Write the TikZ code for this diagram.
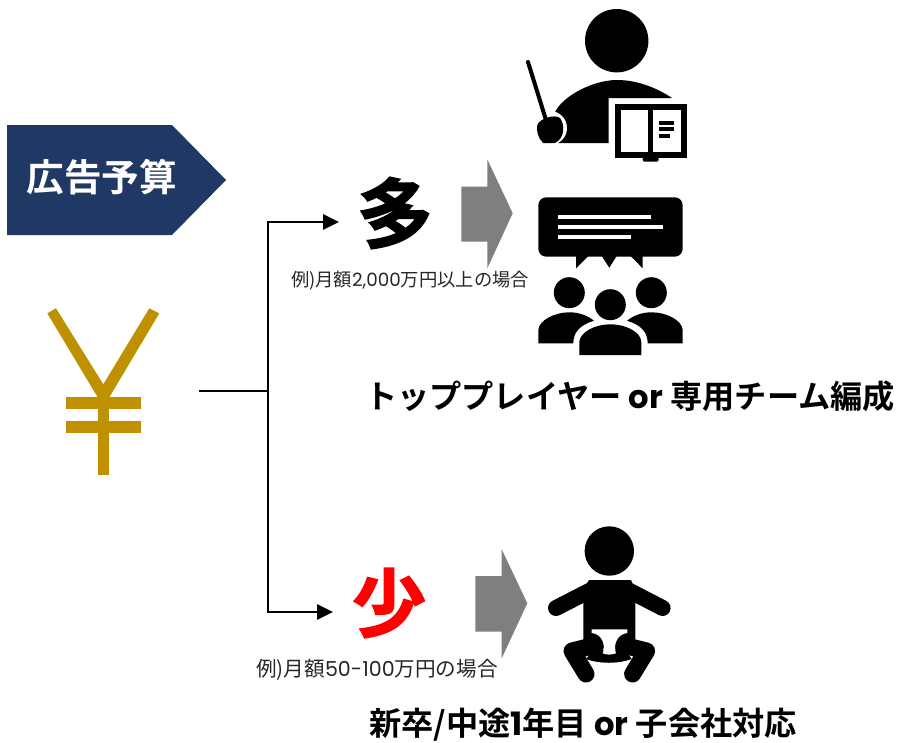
\documentclass[tikz,border=0pt]{standalone}
\usepackage{fontspec}
\setmainfont{Noto Sans CJK JP}[BoldFont={Noto Sans CJK JP Bold}]
\newfontfamily\latinf{Poppins}
\newfontfamily\heavyf{Noto Sans CJK JP Bold}[FakeBold=2]
\newcommand{\lat}[1]{{\latinf #1}}
\definecolor{navy}{HTML}{1F3864}
\definecolor{gold}{HTML}{BF9000}
\definecolor{arrowgray}{HTML}{7F7F7F}
\usetikzlibrary{arrows.meta}
\tikzset{
  link/.style={draw=black,line width=2.7pt},
  linkarrow/.style={link,-{Triangle[length=16pt,width=15pt]}},
  blockarrow/.style={fill=arrowgray,draw=none},
  icon/.style={fill=black,draw=none},
  gap/.style={fill=white,draw=none},
  note/.style={inner sep=0pt,text=black!85},
  headline/.style={inner sep=0pt,font=\bfseries\fontsize{32.2}{38}\selectfont},
}
\begin{document}
\begin{tikzpicture}[x=1pt,y=-1pt]
\useasboundingbox (0,0) rectangle (897,742);
% budget tag
\fill[navy] (7,125) -- (172,125) -- (226,180) -- (172,235) -- (7,235) -- cycle;
\node[inner sep=0pt,text=white,font=\bfseries\fontsize{37.6}{40}\selectfont] (budget) at (102,177) {広告予算};
% yen
\fill[gold] (47.3,313.3) -- (56,308.3) -- (103.3,384.3) -- (149.3,308.3) -- (159.3,313.3) -- (109.3,397.3) -- (97.7,397.3) -- cycle;
\fill[gold] (97.7,397) rectangle (109.3,474.7);
\fill[gold] (66,397.3) rectangle (141,409.3);
\fill[gold] (66,421.3) rectangle (141,433.3);
% connectors
\coordinate (start) at (199,391);
\coordinate (fork) at (268,391);
\coordinate (upTip) at (339,222);
\coordinate (downTip) at (333,612);
\draw[link] (start) -- (fork);
\draw[linkarrow] (fork) |- (upTip);
\draw[linkarrow] (fork) |- (downTip);
% labels
\node[inner sep=0pt,font=\heavyf\fontsize{76}{80}\selectfont] (many) at (395,213) {多};
\node[inner sep=0pt,text=red,font=\heavyf\fontsize{74}{80}\selectfont] (few) at (389,603) {少};
\node[note,font=\fontsize{18.3}{22}\selectfont] (noteA) at (410,281) {例)月額\lat{2,000}万円以上の場合};
\node[note,font=\fontsize{20.6}{24}\selectfont] (noteB) at (377,670) {例)月額\lat{50-100}万円の場合};
% block arrows
\fill[blockarrow] (461.3,186.7) -- (487.3,186.7) -- (487.3,159.3) -- (512.7,213.3) -- (487.3,268.3) -- (487.3,241.7) -- (461.3,241.7) -- cycle;
\fill[blockarrow] (475.3,576) -- (501.7,576) -- (501.7,549.3) -- (527.3,603.3) -- (501.7,658.3) -- (501.7,631.7) -- (475.3,631.7) -- cycle;
% headlines
\node[headline] (top) at (630,396) {トッププレイヤー \lat{or} 専用チーム編成};
\node[headline] (low) at (583,725) {新卒/中途\lat{1}年目 \lat{or} 子会社対応};
% teacher
\fill[icon] (616.7,40.7) circle (31.7);
\fill[icon] (553.5,117) .. controls (556,100) and (590,80) .. (617,80) .. controls (640,80) and (660,90) .. (672,98) -- (608.7,98) -- (608.7,143) -- (558,143) -- cycle;
\fill[gap] (550,128) circle (17);
\draw[black,line width=4pt,line cap=round] (528,62) -- (546,120);
\fill[icon] (537.3,125) .. controls (540,118) and (555,114) .. (560,118) .. controls (565,125) and (565,138) .. (555,143) -- (543,143) .. controls (538,138) and (536,130) .. (537.3,125) -- cycle;
\fill[icon] (614.7,104.3) rectangle (687,158.3);
\fill[gap] (621,110.3) rectangle (648.3,152);
\fill[gap] (653,110.3) rectangle (680.7,152);
\fill[icon] (659,121) rectangle (674,125);
\fill[icon] (659,127.3) rectangle (674,131);
\fill[icon] (659,134) rectangle (670,137.7);
\fill[icon,rounded corners=2pt] (642.7,157) rectangle (658.7,161.7);
% team
\fill[icon,rounded corners=8pt] (538.3,197.3) rectangle (682.7,256.7);
\fill[icon] (576,256) -- (576,268.3) -- (588.3,256) -- cycle;
\fill[icon] (601.7,256) -- (609.3,267.7) -- (616.7,256) -- cycle;
\fill[icon] (630.7,256) -- (642.7,268.3) -- (642.7,256) -- cycle;
\fill[gap] (558.3,215) rectangle (651,219);
\fill[gap] (558.3,225) rectangle (662.7,229);
\fill[gap] (558.3,235) rectangle (631,238.7);
\fill[icon] (569.3,292.7) circle (15.5);
\fill[icon] (651.3,292.7) circle (15.5);
\fill[icon] (610.3,304.7) circle (15.5);
\fill[icon] (538.3,343.3) -- (538.3,330) .. controls (539,320) and (555,312.3) .. (569.3,312.3) .. controls (580,312.3) and (588,316) .. (594,320.7) .. controls (580,325) and (573.3,332) .. (573.3,343.3) -- cycle;
\fill[icon] (682.7,343.3) -- (682.7,330) .. controls (682,320) and (666,312.3) .. (651.7,312.3) .. controls (641,312.3) and (633,316) .. (627,320.7) .. controls (641,325) and (647.7,332) .. (647.7,343.3) -- cycle;
\fill[icon] (579.3,355) -- (579.3,342) .. controls (580,332) and (595,324.3) .. (610.3,324.3) .. controls (626,324.3) and (641,332) .. (641.3,342) -- (641.3,355) -- cycle;
% baby
\fill[icon] (609.3,551) circle (24.7);
\fill[icon] (589,580) -- (631,580) -- (635.3,590) -- (635.3,640) -- (583.3,640) -- (583.3,590) -- cycle;
\draw[black,line width=16pt,line cap=round] (556,608) -- (595,588);
\draw[black,line width=16pt,line cap=round] (662.6,608) -- (624,588);
\draw[black,line width=17pt,line cap=round,line join=round] (596,645) -- (572,651) -- (586,674);
\draw[black,line width=17pt,line cap=round,line join=round] (622.6,645) -- (646.6,651) -- (632.6,674);
\fill[icon] (585.7,659) .. controls (600,664) and (618,664) .. (631.7,659) -- (625,650) -- (594,650) -- cycle;
\fill[gap] (591.7,629.3) -- (627.3,629.3) -- (627.3,633) .. controls (617,634) and (613,645) .. (616,653.3) .. controls (611,655) and (607,655) .. (602.7,653.3) .. controls (606,645) and (602,634) .. (591.7,633) -- cycle;
\end{tikzpicture}
\end{document}
